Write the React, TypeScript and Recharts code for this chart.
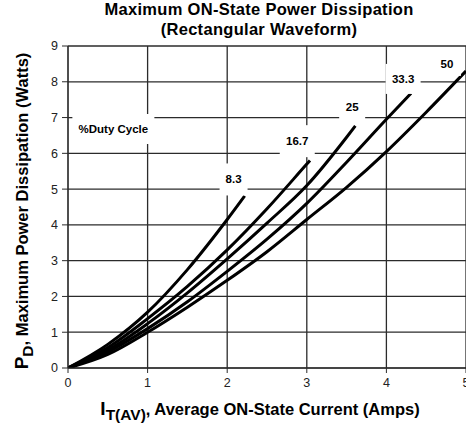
import {
  LineChart,
  Line,
  XAxis,
  YAxis,
  CartesianGrid,
  ReferenceDot,
  Label,
} from "recharts";

// duty cycle curves
const amps8_3 = [0, 0.5, 1, 1.5, 2, 2.22];
const watts8_3 = [0, 0.66, 1.56, 2.75, 4.15, 4.81];

const amps16_7 = [0, 0.5, 1, 1.5, 2, 2.5, 3, 3.04];
const watts16_7 = [0, 0.57, 1.38, 2.28, 3.3, 4.45, 5.7, 5.8];

const amps25 = [0, 0.5, 1, 1.5, 2, 2.5, 3, 3.5, 3.61];
const watts25 = [0, 0.5, 1.24, 2.1, 3.05, 4.05, 5.1, 6.45, 6.77];

const amps33_3 = [0, 0.5, 1, 1.5, 2, 2.5, 3, 3.5, 4, 4.31];
const watts33_3 = [0, 0.45, 1.1, 1.85, 2.7, 3.6, 4.6, 5.75, 6.95, 7.68];

const amps50 = [0, 0.5, 1, 1.5, 2, 2.5, 3, 3.5, 4, 4.5, 5];
const watts50 = [0, 0.38, 1.0, 1.7, 2.45, 3.25, 4.15, 5.05, 6.05, 7.15, 8.3];

const xTicks = [0, 1, 2, 3, 4, 5];
const yTicks = [0, 1, 2, 3, 4, 5, 6, 7, 8, 9];

// label text and where it sits (data coords) + white box size
const labelTexts = ["%Duty Cycle", "8.3", "16.7", "25", "33.3", "50"];
const labelX = [0.57, 2.08, 2.88, 3.57, 4.21, 4.76];
const labelY = [6.68, 5.27, 6.34, 7.3, 8.08, 8.5];
const boxW = [82, 28, 35, 26, 35, 28];
const boxH = [30, 32, 32, 30, 30, 24];

const toRows = (xs: number[], ys: number[]) =>
  xs.map((x, i) => ({ x, y: ys[i] }));

const series = [
  toRows(amps8_3, watts8_3),
  toRows(amps16_7, watts16_7),
  toRows(amps25, watts25),
  toRows(amps33_3, watts33_3),
  toRows(amps50, watts50),
];

const FONT = "'Liberation Sans', Arial, Helvetica, sans-serif";
const GRID = "#2b2b2b";

export default function App() {
  return (
    <div
      style={{
        position: "fixed",
        left: 0,
        top: 0,
        width: 466,
        height: 428,
        overflow: "hidden",
        background: "#fff",
        fontFamily: FONT,
      }}
    >
      <div
        style={{
          position: "absolute",
          left: 0,
          top: -1,
          width: 518,
          textAlign: "center",
          fontWeight: "bold",
          fontSize: 16.5,
          letterSpacing: 0.3,
          lineHeight: "20px",
          color: "#000",
        }}
      >
        Maximum ON-State Power Dissipation
        <br />
        (Rectangular Waveform)
      </div>
      <LineChart
        width={470}
        height={428}
        margin={{ top: 46, right: 4, left: 38, bottom: 30 }}
        style={{ fontFamily: FONT }}
      >
        <CartesianGrid stroke={GRID} strokeWidth={1.3} />
        <XAxis
          dataKey="x"
          type="number"
          domain={[0, 5]}
          ticks={xTicks}
          allowDataOverflow
          height={30}
          tickSize={5}
          tickMargin={5}
          stroke={GRID}
          tick={{ fontSize: 12.5, fill: "#222" }}
        >
          <Label
            content={(props: any) => {
              const vb = props.viewBox || { x: 68, width: 398, y: 367 };
              const cx = vb.x + vb.width / 2 - 7;
              return (
                <text
                  x={cx}
                  y={415}
                  textAnchor="middle"
                  fontWeight="bold"
                  fontSize={16.5}
                  fill="#000"
                  fontFamily={FONT}
                >
                  <tspan fontSize={19}>I</tspan>
                  <tspan dy={5} fontSize={15.5}>T(AV)</tspan>
                  <tspan dy={-5}>, Average ON-State Current (Amps)</tspan>
                </text>
              );
            }}
          />
        </XAxis>
        <YAxis
          type="number"
          domain={[0, 9]}
          ticks={yTicks}
          allowDataOverflow
          width={30}
          tickSize={6}
          tickMargin={4}
          stroke={GRID}
          tick={{ fontSize: 12.5, fill: "#222" }}
        >
          <Label
            content={(props: any) => {
              const vb = props.viewBox || { y: 46, height: 321 };
              const cy = vb.y + vb.height / 2 + 4;
              return (
                <text
                  transform={`translate(28, ${cy}) rotate(-90)`}
                  textAnchor="middle"
                  fontWeight="bold"
                  fontSize={16.5}
                  fill="#000"
                  fontFamily={FONT}
                >
                  <tspan fontSize={19}>P</tspan>
                  <tspan dy={5} fontSize={15.5}>D</tspan>
                  <tspan dy={-5}>, Maximum Power Dissipation (Watts)</tspan>
                </text>
              );
            }}
          />
        </YAxis>
        {series.map((rows, i) => (
          <Line
            key={i}
            data={rows}
            dataKey="y"
            type="monotone"
            stroke="#000"
            strokeWidth={3}
            dot={false}
            activeDot={false}
            isAnimationActive={false}
          />
        ))}
        {labelTexts.map((t, i) => (
          <ReferenceDot
            key={t}
            x={labelX[i]}
            y={labelY[i]}
            ifOverflow="visible"
            shape={(p: any) => (
              <g>
                <rect
                  x={p.cx - boxW[i] / 2}
                  y={p.cy - boxH[i] / 2}
                  width={boxW[i]}
                  height={boxH[i]}
                  fill="#fff"
                />
                <text
                  x={p.cx}
                  y={p.cy + 4}
                  textAnchor="middle"
                  fontWeight="bold"
                  fontSize={11.5}
                  fill="#000"
                  fontFamily={FONT}
                >
                  {t}
                </text>
              </g>
            )}
          />
        ))}
      </LineChart>
    </div>
  );
}
